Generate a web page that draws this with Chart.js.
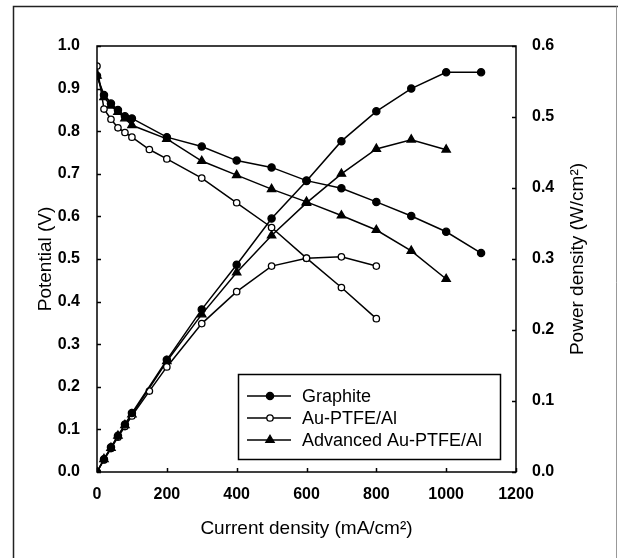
<!DOCTYPE html>
<html>
<head>
<meta charset="utf-8">
<script src="https://cdn.jsdelivr.net/npm/chart.js@4"></script>
<style>
  html, body { margin: 0; padding: 0; background: #fff; }
  canvas { display: block; }
</style>
</head>
<body>
<canvas id="fuelCell" width="618" height="558"></canvas>
<script>
// valores (densidad de corriente en mA/cm2)
const currentGraphite = [0, 20, 40, 60, 80, 100, 200, 300, 400, 500, 600, 700, 800, 900, 1000, 1100];
const potentialGraphite = [0.93, 0.885, 0.865, 0.85, 0.835, 0.83, 0.786, 0.764, 0.731, 0.715, 0.684, 0.666, 0.634, 0.601, 0.564, 0.514];
const powerGraphite = [0, 0.018, 0.035, 0.051, 0.067, 0.083, 0.158, 0.229, 0.292, 0.357, 0.41, 0.466, 0.508, 0.54, 0.563, 0.563];

const currentAu = [0, 20, 40, 60, 80, 100, 150, 200, 300, 400, 500, 600, 700, 800];
const potentialAu = [0.953, 0.852, 0.828, 0.808, 0.797, 0.786, 0.757, 0.735, 0.69, 0.632, 0.574, 0.502, 0.433, 0.36];
const powerAu = [0, 0.017, 0.033, 0.049, 0.064, 0.079, 0.114, 0.148, 0.209, 0.254, 0.29, 0.301, 0.303, 0.29];

const currentAdv = [0, 20, 40, 60, 80, 100, 200, 300, 400, 500, 600, 700, 800, 900, 1000];
const potentialAdv = [0.93, 0.88, 0.86, 0.845, 0.83, 0.814, 0.782, 0.73, 0.697, 0.664, 0.634, 0.602, 0.568, 0.519, 0.453];
const powerAdv = [0, 0.018, 0.034, 0.051, 0.066, 0.081, 0.156, 0.222, 0.281, 0.333, 0.379, 0.42, 0.455, 0.468, 0.454];

const seriesNames = ['Graphite', 'Au-PTFE/Al', 'Advanced Au-PTFE/Al'];
const xTicks = [0, 200, 400, 600, 800, 1000, 1200];
const leftTicks = [0, 0.1, 0.2, 0.3, 0.4, 0.5, 0.6, 0.7, 0.8, 0.9, 1.0];
const rightTicks = [0, 0.1, 0.2, 0.3, 0.4, 0.5, 0.6];

const FONT = "'Liberation Sans', Arial, sans-serif";
const pts = (xs, ys) => xs.map((x, i) => ({ x: x, y: ys[i] }));

// estilos de marcador por serie
const styles = [
    { pointStyle: 'circle', pointRadius: 3.6, pointBackgroundColor: '#000' },
    { pointStyle: 'circle', pointRadius: 3.2, pointBackgroundColor: '#fff' },
    { pointStyle: 'triangle', pointRadius: 4.8, pointBackgroundColor: '#000' }
];

const mkSet = (label, data, axis, st, inLegend) => Object.assign({
    label: label,
    data: data,
    yAxisID: axis,
    borderColor: '#000',
    borderWidth: 1.5,
    pointBorderColor: '#000',
    pointBorderWidth: 1.3,
    fill: false,
    tension: 0,
    inLegend: inLegend
}, st);

const datasets = [
    mkSet(seriesNames[0], pts(currentGraphite, potentialGraphite), 'yV', styles[0], true),
    mkSet(seriesNames[1], pts(currentAu, potentialAu), 'yV', styles[1], true),
    mkSet(seriesNames[2], pts(currentAdv, potentialAdv), 'yV', styles[2], true),
    mkSet(seriesNames[0] + ' power', pts(currentGraphite, powerGraphite), 'yP', styles[0], false),
    mkSet(seriesNames[1] + ' power', pts(currentAu, powerAu), 'yP', styles[1], false),
    mkSet(seriesNames[2] + ' power', pts(currentAdv, powerAdv), 'yP', styles[2], false)
];

// marco, ticks hacia adentro, leyenda interna y titulo derecho
const decor = {
    id: 'decor',
    beforeDraw(chart) {
        const ctx = chart.ctx;
        ctx.save();
        ctx.strokeStyle = '#222';
        ctx.lineWidth = 1.5;
        ctx.beginPath();
        ctx.moveTo(13.5, 558);
        ctx.lineTo(13.5, 6.5);
        ctx.lineTo(618, 6.5);
        ctx.stroke();
        ctx.strokeStyle = '#999';
        ctx.lineWidth = 1;
        ctx.beginPath();
        ctx.moveTo(616.5, 6.5);
        ctx.lineTo(616.5, 558);
        ctx.stroke();
        ctx.restore();
    },
    afterDraw(chart) {
        const ctx = chart.ctx;
        const a = chart.chartArea;
        const sx = chart.scales.x, sv = chart.scales.yV, sp = chart.scales.yP;
        ctx.save();
        ctx.strokeStyle = '#000';
        ctx.lineWidth = 1.5;
        ctx.strokeRect(a.left, a.top, a.right - a.left, a.bottom - a.top);

        ctx.beginPath();
        xTicks.forEach(v => {
            const px = Math.round(sx.getPixelForValue(v)) + 0.5;
            ctx.moveTo(px, a.bottom); ctx.lineTo(px, a.bottom - 4);
        });
        leftTicks.forEach(v => {
            const py = Math.round(sv.getPixelForValue(v)) + 0.5;
            ctx.moveTo(a.left, py); ctx.lineTo(a.left + 4, py);
        });
        rightTicks.forEach(v => {
            const py = Math.round(sp.getPixelForValue(v)) + 0.5;
            ctx.moveTo(a.right, py); ctx.lineTo(a.right - 4, py);
        });
        ctx.stroke();

        // leyenda
        const box = { l: 238.5, t: 374.5, r: 500.5, b: 459.5 };
        ctx.lineWidth = 1.5;
        ctx.strokeRect(box.l, box.t, box.r - box.l, box.b - box.t);
        ctx.font = '18px ' + FONT;
        ctx.textBaseline = 'middle';
        ctx.fillStyle = '#000';
        chart.data.datasets.filter(d => d.inLegend).forEach((d, i) => {
            const y = 396 + i * 22;
            ctx.beginPath();
            ctx.lineWidth = 1.5;
            ctx.moveTo(247, y); ctx.lineTo(291, y);
            ctx.stroke();
            ctx.fillStyle = d.pointBackgroundColor;
            ctx.lineWidth = d.pointBorderWidth;
            Chart.helpers.drawPoint(ctx, { pointStyle: d.pointStyle, radius: d.pointRadius, borderWidth: d.pointBorderWidth, rotation: 0 }, 270, y);
            ctx.fillStyle = '#000';
            ctx.fillText(d.label, 302, y + 1);
        });

        // titulo eje derecho (se lee de abajo hacia arriba)
        ctx.translate(578, (a.top + a.bottom) / 2);
        ctx.rotate(-Math.PI / 2);
        ctx.textAlign = 'center';
        ctx.font = '19px ' + FONT;
        ctx.fillText('Power density (W/cm²)', 0, 0);
        ctx.restore();
    }
};

new Chart(document.getElementById('fuelCell'), {
    type: 'line',
    data: { datasets: datasets },
    options: {
        responsive: false,
        animation: false,
        devicePixelRatio: 1,
        layout: { padding: { left: 0, right: 0, top: 46, bottom: 0 } },
        plugins: { legend: { display: false }, tooltip: { enabled: false } },
        scales: {
            x: {
                type: 'linear', min: 0, max: 1200,
                afterFit: s => { s.height = 86; },
                afterBuildTicks: s => { s.ticks = xTicks.map(v => ({ value: v })); },
                grid: { display: false }, border: { display: false },
                ticks: { padding: 5, color: '#000', font: { family: FONT, size: 16, weight: 'bold' }, maxRotation: 0, callback: v => String(v) },
                title: { display: true, text: 'Current density (mA/cm²)', color: '#000', font: { family: FONT, size: 19 }, padding: { top: 0, bottom: 18 } }
            },
            yV: {
                type: 'linear', position: 'left', min: 0, max: 1,
                afterFit: s => { s.width = 97; },
                afterBuildTicks: s => { s.ticks = leftTicks.map(v => ({ value: v })); },
                grid: { display: false }, border: { display: false },
                ticks: { padding: 9, color: '#000', font: { family: FONT, size: 16, weight: 'bold' }, callback: v => v.toFixed(1) },
                title: { display: true, text: 'Potential (V)', color: '#000', font: { family: FONT, size: 19 }, padding: { top: 34, bottom: 0 } }
            },
            yP: {
                type: 'linear', position: 'right', min: 0, max: 0.6,
                afterFit: s => { s.width = 102; },
                afterBuildTicks: s => { s.ticks = rightTicks.map(v => ({ value: v })); },
                grid: { display: false }, border: { display: false },
                ticks: { padding: 8, color: '#000', font: { family: FONT, size: 16, weight: 'bold' }, callback: v => v.toFixed(1) }
            }
        }
    },
    plugins: [decor]
});
</script>
</body>
</html>
